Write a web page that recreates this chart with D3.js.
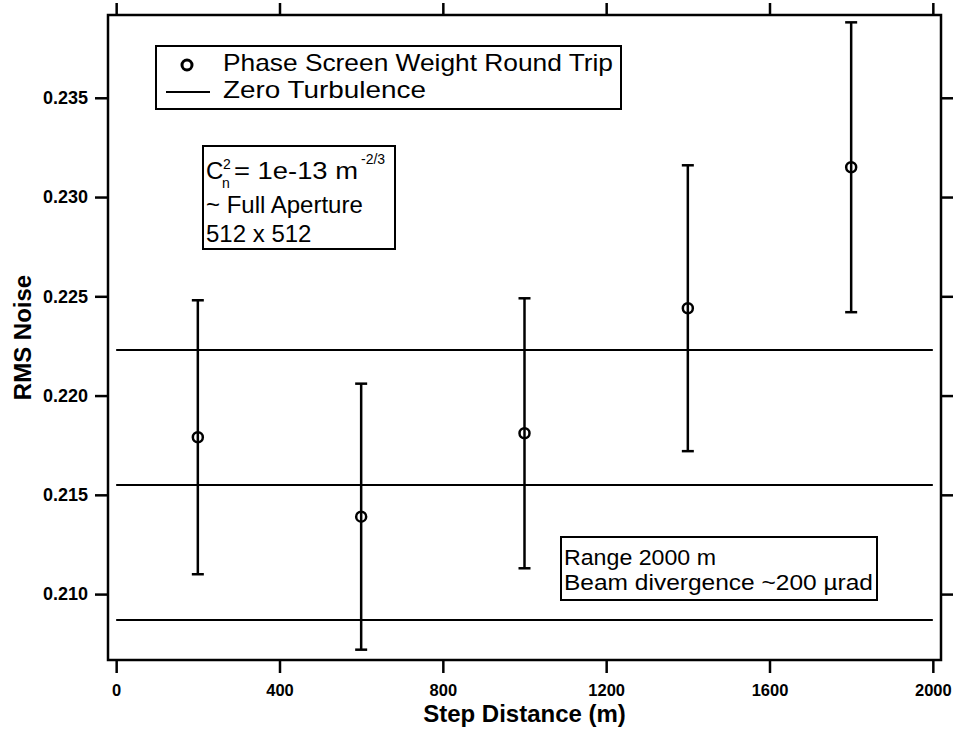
<!DOCTYPE html>
<html>
<head>
<meta charset="utf-8">
<script src="https://cdn.jsdelivr.net/npm/d3@7"></script>
<style>
  body { margin: 0; background: #fff; }
  svg { display: block; }
  text { font-family: "Liberation Sans", Arial, Helvetica, sans-serif; fill: #000; }
</style>
</head>
<body>
<svg id="chart" width="954" height="729"></svg>
<script>
// Measured RMS noise versus phase-screen step distance
const stepDistance = [200, 600, 1000, 1400, 1800];
const rmsNoise = [0.2179, 0.2139, 0.2181, 0.2244, 0.2315];
const rmsError = [0.0069, 0.0067, 0.0068, 0.0072, 0.0073];

// Zero-turbulence reference: upper bound, mean, lower bound
const zeroTurbulenceLevels = [0.2223, 0.2155, 0.2087];

const xTicks = [0, 400, 800, 1200, 1600, 2000];
const yTicks = [0.210, 0.215, 0.220, 0.225, 0.230, 0.235];
const xDomain = [-20, 2020];
const yDomain = [0.20668, 0.23917];

const legendLabels = ["Phase Screen Weight Round Trip", "Zero Turbulence"];
const xTitle = "Step Distance (m)";
const yTitle = "RMS Noise";
const rangeNotes = ["Range 2000 m", "Beam divergence ~200 \u00B5rad"];
const apertureNotes = ["~ Full Aperture", "512 x 512"];

const W = 954, H = 729;
const margin = { top: 15, right: 13, bottom: 69, left: 108 };
const svg = d3.select("#chart");

const x = d3.scaleLinear().domain(xDomain).range([margin.left, W - margin.right]);
const y = d3.scaleLinear().domain(yDomain).range([H - margin.bottom, margin.top]);

// Zero-turbulence horizontal lines
svg.append("g")
  .selectAll("line")
  .data(zeroTurbulenceLevels)
  .join("line")
  .attr("x1", x(xTicks[0]))
  .attr("x2", x(xTicks[xTicks.length - 1]))
  .attr("y1", d => y(d))
  .attr("y2", d => y(d))
  .attr("stroke", "#000")
  .attr("stroke-width", 2);

// Axes on all four sides, ticks pointing outward
function styleAxis(g, size, weight) {
  g.select(".domain").remove();
  g.selectAll(".tick line").attr("stroke", "#000").attr("stroke-width", 2.5);
  g.selectAll(".tick text")
    .attr("fill", "#000")
    .style("font-family", "'Liberation Sans', Arial, Helvetica, sans-serif")
    .style("font-size", size + "px")
    .style("font-weight", weight);
}

svg.append("g")
  .attr("transform", `translate(0,${H - margin.bottom})`)
  .call(d3.axisBottom(x).tickValues(xTicks).tickSize(13).tickPadding(11).tickFormat(d3.format("d")))
  .call(g => styleAxis(g, 16.5, "bold"));

svg.append("g")
  .attr("transform", `translate(0,${margin.top})`)
  .call(d3.axisTop(x).tickValues(xTicks).tickSize(12).tickFormat(""))
  .call(g => styleAxis(g, 17, "bold"));

svg.append("g")
  .attr("transform", `translate(${margin.left},0)`)
  .call(d3.axisLeft(y).tickValues(yTicks).tickSize(13).tickPadding(7).tickFormat(d3.format(".3f")))
  .call(g => styleAxis(g, 18, "bold"));

svg.append("g")
  .attr("transform", `translate(${W - margin.right},0)`)
  .call(d3.axisRight(y).tickValues(yTicks).tickSize(12).tickFormat(""))
  .call(g => styleAxis(g, 17, "bold"));

// Plot frame
svg.append("rect")
  .attr("x", margin.left)
  .attr("y", margin.top)
  .attr("width", W - margin.left - margin.right)
  .attr("height", H - margin.top - margin.bottom)
  .attr("fill", "none")
  .attr("stroke", "#000")
  .attr("stroke-width", 2.5);

// Axis titles
svg.append("text")
  .attr("x", (margin.left + W - margin.right) / 2)
  .attr("y", 722)
  .attr("text-anchor", "middle")
  .style("font-size", "24px")
  .style("font-weight", "bold")
  .text(xTitle);

svg.append("text")
  .attr("transform", `translate(31,${(margin.top + H - margin.bottom) / 2}) rotate(-90)`)
  .attr("text-anchor", "middle")
  .style("font-size", "24px")
  .style("font-weight", "bold")
  .text(yTitle);

// Error bars with caps, and hollow circle markers
const points = stepDistance.map((d, i) => ({ x: d, v: rmsNoise[i], e: rmsError[i] }));
const capHalf = 6;
const bars = svg.append("g").attr("stroke", "#000").attr("stroke-width", 2.5);
bars.selectAll(".stem").data(points).join("line")
  .attr("x1", d => x(d.x)).attr("x2", d => x(d.x))
  .attr("y1", d => y(d.v + d.e)).attr("y2", d => y(d.v - d.e));
bars.selectAll(".capTop").data(points).join("line")
  .attr("x1", d => x(d.x) - capHalf).attr("x2", d => x(d.x) + capHalf)
  .attr("y1", d => y(d.v + d.e)).attr("y2", d => y(d.v + d.e));
bars.selectAll(".capBot").data(points).join("line")
  .attr("x1", d => x(d.x) - capHalf).attr("x2", d => x(d.x) + capHalf)
  .attr("y1", d => y(d.v - d.e)).attr("y2", d => y(d.v - d.e));

svg.append("g").selectAll("circle").data(points).join("circle")
  .attr("cx", d => x(d.x)).attr("cy", d => y(d.v))
  .attr("r", 5)
  .attr("fill", "none")
  .attr("stroke", "#000")
  .attr("stroke-width", 2.5);

// Legend
const legend = svg.append("g");
legend.append("rect")
  .attr("x", 156).attr("y", 46).attr("width", 465).attr("height", 63)
  .attr("fill", "#fff").attr("stroke", "#000").attr("stroke-width", 2);
legend.append("circle")
  .attr("cx", 187).attr("cy", 65).attr("r", 5)
  .attr("fill", "none").attr("stroke", "#000").attr("stroke-width", 3);
legend.append("line")
  .attr("x1", 166).attr("x2", 210).attr("y1", 92).attr("y2", 92)
  .attr("stroke", "#000").attr("stroke-width", 2);
const legendLengths = [390, 203];
legend.selectAll(".lbl").data(legendLabels).join("text")
  .attr("x", 223)
  .attr("y", (d, i) => 71 + i * 27)
  .attr("textLength", (d, i) => legendLengths[i])
  .attr("lengthAdjust", "spacingAndGlyphs")
  .style("font-size", "24px")
  .text(d => d);

// Turbulence strength / aperture note
const note = svg.append("g");
note.append("rect")
  .attr("x", 203).attr("y", 146).attr("width", 192).attr("height", 103)
  .attr("fill", "#fff").attr("stroke", "#000").attr("stroke-width", 2);
note.append("text").attr("x", 206).attr("y", 179).style("font-size", "24px").text("C");
note.append("text").attr("x", 222).attr("y", 188).style("font-size", "14px").text("n");
note.append("text").attr("x", 223).attr("y", 169).style("font-size", "14px").text("2");
note.append("text").attr("x", 234).attr("y", 179)
  .attr("textLength", 124).attr("lengthAdjust", "spacingAndGlyphs")
  .style("font-size", "24px").text("= 1e-13 m");
note.append("text").attr("x", 361).attr("y", 164).style("font-size", "14px").text("-2/3");
note.selectAll(".ap").data(apertureNotes).join("text")
  .attr("x", 206)
  .attr("y", (d, i) => 213 + i * 29)
  .style("font-size", "24px")
  .text(d => d);

// Range / beam note
const rangeBox = svg.append("g");
rangeBox.append("rect")
  .attr("x", 561).attr("y", 537).attr("width", 316).attr("height", 63)
  .attr("fill", "#fff").attr("stroke", "#000").attr("stroke-width", 2);
const rangeLengths = [152, 309];
rangeBox.selectAll("text").data(rangeNotes).join("text")
  .attr("x", 564)
  .attr("y", (d, i) => 565 + i * 25)
  .attr("textLength", (d, i) => rangeLengths[i])
  .attr("lengthAdjust", "spacingAndGlyphs")
  .style("font-size", "22px")
  .text(d => d);
</script>
</body>
</html>
